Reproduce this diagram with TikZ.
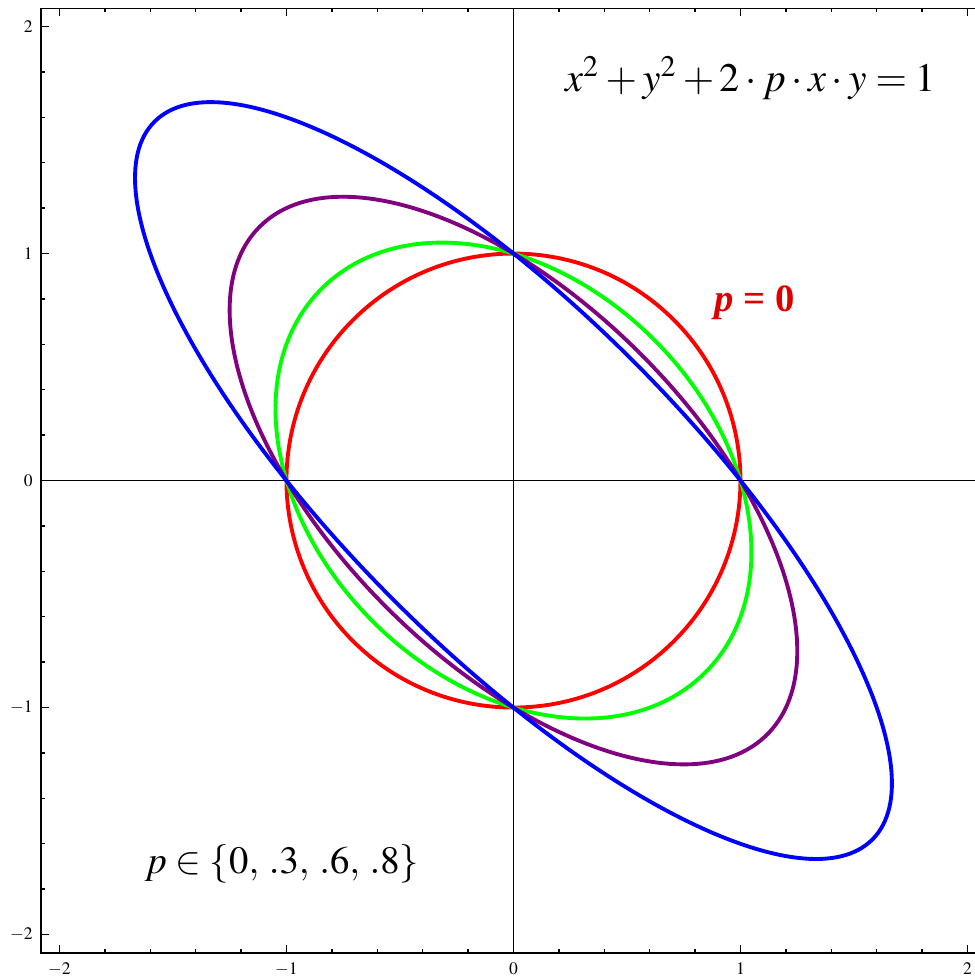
\documentclass[tikz,border=0pt]{standalone}
\usepackage{mathptmx}
\usepackage{fontspec}
\setmainfont{Liberation Serif}
\definecolor{mred}{RGB}{255,0,0}
\definecolor{mgreen}{RGB}{0,255,0}
\definecolor{mpurple}{RGB}{128,0,128}
\definecolor{mblue}{RGB}{0,0,255}
\definecolor{labelred}{RGB}{220,0,0}
\tikzset{
  frame/.style={draw, line width=0.5pt},
  axis/.style={draw, line width=0.45pt},
  curve/.style={line width=1.1pt},
  tickmark/.style={line width=0.4pt},
  ticklbl/.style={inner sep=0pt, font=\fontsize{5}{6}\selectfont},
  eqn/.style={inner sep=0pt, font=\fontsize{11.5}{13}\selectfont},
  setlbl/.style={inner sep=0pt, font=\fontsize{11}{13}\selectfont},
  plabel/.style={inner sep=0pt, text=labelred, font=\fontsize{11}{13}\selectfont\bfseries},
}
\begin{document}
\begin{tikzpicture}[x=2.27cm, y=2.27cm]
    \useasboundingbox (-2.262,-2.187) rectangle (2.033,2.117);
    % axes
    \draw[axis] (-2.08,0) -- (2.08,0);
    \draw[axis] (0,-2.08) -- (0,2.08);
    % ellipses x^2+y^2+2pxy=1
    \foreach \pv/\col in {0/mred, 0.3/mgreen, 0.6/mpurple, 0.8/mblue}
      \draw[curve, \col, rotate=-45] (0,0) ellipse ({1/sqrt(1-\pv)} and {1/sqrt(1+\pv)});
    % frame and ticks
    \draw[frame] (-2.08,-2.08) rectangle (2.08,2.08);
    \foreach \i in {-10,...,10} {
      \draw[tickmark] (\i/5,-2.08) -- ++(0,0.018);
      \draw[tickmark] (\i/5,2.08) -- ++(0,-0.018);
      \draw[tickmark] (-2.08,\i/5) -- ++(0.018,0);
      \draw[tickmark] (2.08,\i/5) -- ++(-0.018,0);
    }
    \foreach \v in {-2,...,2} {
      \draw[tickmark] (\v,-2.08) -- ++(0,0.032);
      \draw[tickmark] (\v,2.08) -- ++(0,-0.032);
      \draw[tickmark] (-2.08,\v) -- ++(0.032,0);
      \draw[tickmark] (2.08,\v) -- ++(-0.032,0);
      \node[ticklbl, anchor=north] (xl\v) at (\v,-2.121) {$\v$};
      \node[ticklbl, anchor=east] (yl\v) at (-2.115,\v) {$\v$};
    }
    % texts
    \node[eqn] (eqn) at (1.045,1.773) {$x^2+y^2+2\cdot p\cdot x\cdot y=1$};
    \node[setlbl] (pset) at (-1.02,-1.69) {$p\in\{0,\:.3,\:.6,\:.8\}$};
    \node[plabel] (pzero) at (1.064,0.782) {\textit{p} = 0};
\end{tikzpicture}
\end{document}
